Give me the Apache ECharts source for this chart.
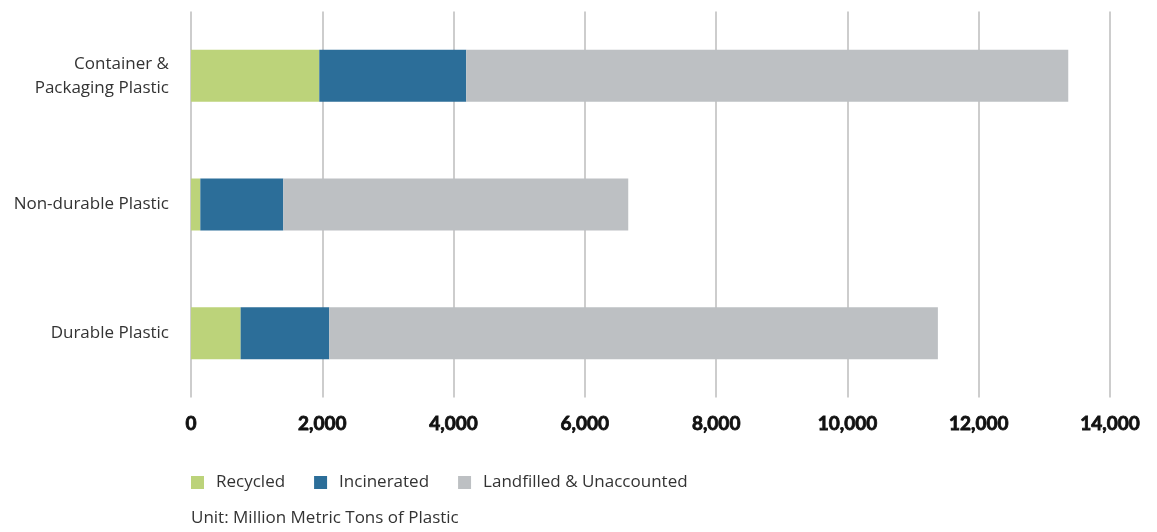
<!DOCTYPE html>
<html><head><meta charset="utf-8">
<script src="https://cdn.jsdelivr.net/npm/echarts@6/dist/echarts.min.js"></script>
<style>html,body{margin:0;padding:0;background:#fff}#c{width:1157px;height:532px}</style>
</head><body><div id="c"></div>
<script>
const categories = ['Durable Plastic', 'Non-durable Plastic', 'Container &\nPackaging Plastic'];
const seriesNames = ['Recycled', 'Incinerated', 'Landfilled & Unaccounted'];
const recycled = [756, 142, 1954];
const incinerated = [1351, 1264, 2239];
const landfilled = [9271, 5255, 9171];
const unitText = 'Unit: Million Metric Tons of Plastic';

const colors = ['#bcd37a', '#2c6e99', '#bdc0c3'];
const values = [recycled, incinerated, landfilled];
const chart = echarts.init(document.getElementById('c'));
chart.setOption({
  animation: false,
  color: colors,
  grid: { left: 191, right: 47, top: 11.5, height: 386 },
  legend: {
    left: 191, top: 474, itemWidth: 13, itemHeight: 13, itemGap: 29, padding: 0,
    icon: 'rect',
    textStyle: { fontFamily: 'Open Sans', fontSize: 17, color: '#333', padding: [0, 0, 0, 7] },
    data: seriesNames
  },
  graphic: [{ type: 'text', left: 191, top: 510,
    style: { text: unitText, fontFamily: 'Open Sans', fontSize: 17, fill: '#333' } }],
  xAxis: {
    type: 'value', min: 0, max: 14000, interval: 2000,
    axisLine: { show: false }, axisTick: { show: false },
    splitLine: { show: true, lineStyle: { color: '#bcbcbc', width: 1.5 } },
    axisLabel: { margin: 17, fontFamily: 'Lato', fontWeight: 'bold', fontSize: 19, color: '#111',
      textBorderColor: '#111', textBorderWidth: 0.8,
      formatter: v => v.toLocaleString('en-US') }
  },
  yAxis: {
    type: 'category', data: categories,
    axisLine: { show: false }, axisTick: { show: false },
    axisLabel: { margin: 22, fontFamily: 'Open Sans', fontSize: 17, color: '#333', lineHeight: 24, align: 'right' }
  },
  series: seriesNames.map((n, i) => ({
    name: n, type: 'bar', stack: 'total', barWidth: 52, data: values[i]
  }))
});
</script></body></html>
